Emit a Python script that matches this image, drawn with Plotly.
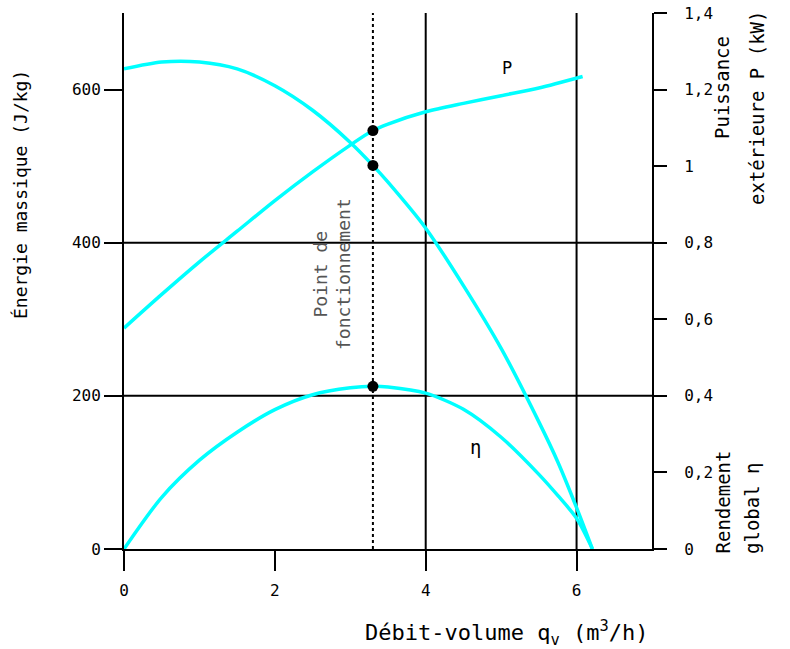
import plotly.graph_objects as go

# Pump characteristic curves versus volume flow rate
q_energy = [0, 0.5, 1.0, 1.5, 2.0, 2.5, 3.0, 3.3, 3.5, 4.0, 4.5, 5.0, 5.5, 5.75, 6.0, 6.21]
energy = [627, 636, 636, 627, 605, 573, 531, 501, 479, 419, 344, 262, 166, 114, 54, 0]

q_power = [0, 0.5, 1.0, 1.5, 2.0, 2.5, 3.0, 3.3, 3.5, 4.0, 4.5, 5.0, 5.5, 6.08]
power = [0.577, 0.665, 0.75, 0.83, 0.91, 0.985, 1.055, 1.093, 1.11, 1.142, 1.164, 1.184, 1.204, 1.234]

q_eff = [0, 0.5, 1.0, 1.5, 2.0, 2.5, 3.0, 3.3, 3.5, 4.0, 4.5, 5.0, 5.5, 5.75, 6.0, 6.21]
eff = [0, 0.135, 0.232, 0.305, 0.364, 0.403, 0.421, 0.425, 0.423, 0.407, 0.365, 0.292, 0.195, 0.14, 0.08, 0]

# Operating point
q_op = 3.3
energy_op = 501
power_op = 1.093
eff_op = 0.425

x_ticks = [0, 2, 4, 6]
y_left_ticks = [0, 200, 400, 600]
y_right_ticks = [0, 0.2, 0.4, 0.6, 0.8, 1.0, 1.2, 1.4]
y_right_labels = ["0", "0,2", "0,4", "0,6", "0,8", "1", "1,2", "1,4"]
x_grid = [4, 6]
y_grid = [200, 400]

CYAN = "#00ffff"
MONO = "DejaVu Sans Mono, Liberation Mono, monospace"

L, R, T, B = 124, 652, 13, 549
W, H = 790, 649


def px(x):
    return (x - L) / (R - L)


def py(y):
    return (B - y) / (B - T)


fig = go.Figure()

fig.add_trace(go.Scatter(x=q_energy, y=energy, mode="lines",
                         line=dict(color=CYAN, width=3.5, shape="spline", smoothing=0.8),
                         hoverinfo="skip", showlegend=False))
fig.add_trace(go.Scatter(x=q_power, y=power, mode="lines", yaxis="y2",
                         line=dict(color=CYAN, width=3.5, shape="spline", smoothing=0.8),
                         hoverinfo="skip", showlegend=False))
fig.add_trace(go.Scatter(x=q_eff, y=eff, mode="lines", yaxis="y2",
                         line=dict(color=CYAN, width=3.5, shape="spline", smoothing=0.8),
                         hoverinfo="skip", showlegend=False))

# Operating point markers
fig.add_trace(go.Scatter(x=[q_op], y=[energy_op], mode="markers",
                         marker=dict(color="black", size=11),
                         showlegend=False, hoverinfo="skip"))
fig.add_trace(go.Scatter(x=[q_op, q_op], y=[power_op, eff_op], mode="markers",
                         yaxis="y2", marker=dict(color="black", size=11),
                         showlegend=False, hoverinfo="skip"))

shapes = []
for gx in x_grid:
    shapes.append(dict(type="line", xref="x", yref="paper", x0=gx, x1=gx, y0=0, y1=1,
                       line=dict(color="black", width=2), layer="below"))
for gy in y_grid:
    shapes.append(dict(type="line", xref="paper", yref="y", x0=0, x1=1, y0=gy, y1=gy,
                       line=dict(color="black", width=2), layer="below"))
shapes.append(dict(type="line", xref="x", yref="paper", x0=q_op, x1=q_op, y0=0, y1=1,
                   line=dict(color="black", width=2, dash="dot"), layer="below"))

annotations = [
    dict(text="Énergie massique (J/kg)", x=px(20), y=py(195), textangle=-90,
         font=dict(family=MONO, size=18, color="black")),
    dict(text="Débit-volume q<sub>v</sub> (m<sup>3</sup>/h)", x=px(507), y=py(633),
         font=dict(family=MONO, size=22, color="black")),
    dict(text="Puissance", x=px(722), y=py(88), textangle=-90,
         font=dict(family=MONO, size=19, color="black")),
    dict(text="extérieure P (kW)", x=px(757), y=py(108), textangle=-90,
         font=dict(family=MONO, size=19, color="black")),
    dict(text="Rendement", x=px(722), y=py(556), textangle=-90, yanchor="bottom",
         font=dict(family=MONO, size=19, color="black")),
    dict(text="global η", x=px(752), y=py(556), textangle=-90, yanchor="bottom",
         font=dict(family=MONO, size=19, color="black")),
    dict(text="Point de<br>fonctionnement", x=px(332), y=py(274), textangle=-90,
         align="center", font=dict(family=MONO, size=18, color="#555555")),
    dict(text="P", x=px(507), y=py(68), font=dict(family=MONO, size=17, color="black")),
    dict(text="η", x=px(475), y=py(447), font=dict(family=MONO, size=19, color="black")),
]
for a in annotations:
    a.update(xref="paper", yref="paper", showarrow=False, xanchor="center")
    a.setdefault("yanchor", "middle")

axis_common = dict(ticks="outside", tickwidth=2, tickcolor="black", showline=True,
                   linecolor="black", linewidth=2, showgrid=False, zeroline=False,
                   automargin=False, tickfont=dict(family=MONO, size=16, color="black"))

fig.update_layout(
    width=W, height=H,
    margin=dict(l=L, r=W - R, t=T, b=H - B, pad=0),
    paper_bgcolor="white", plot_bgcolor="white",
    font=dict(family=MONO, size=16, color="black"),
    xaxis=dict(range=[0, 7], tickvals=x_ticks, ticklen=20, ticklabelstandoff=6,
               **axis_common),
    yaxis=dict(range=[0, 700], tickvals=y_left_ticks, ticklen=18, **axis_common),
    yaxis2=dict(range=[0, 1.4], tickvals=y_right_ticks, ticktext=y_right_labels,
                overlaying="y", side="right", ticklen=13, ticklabelstandoff=14,
                **axis_common),
    shapes=shapes,
    annotations=annotations,
)

fig.write_html("out.html")
